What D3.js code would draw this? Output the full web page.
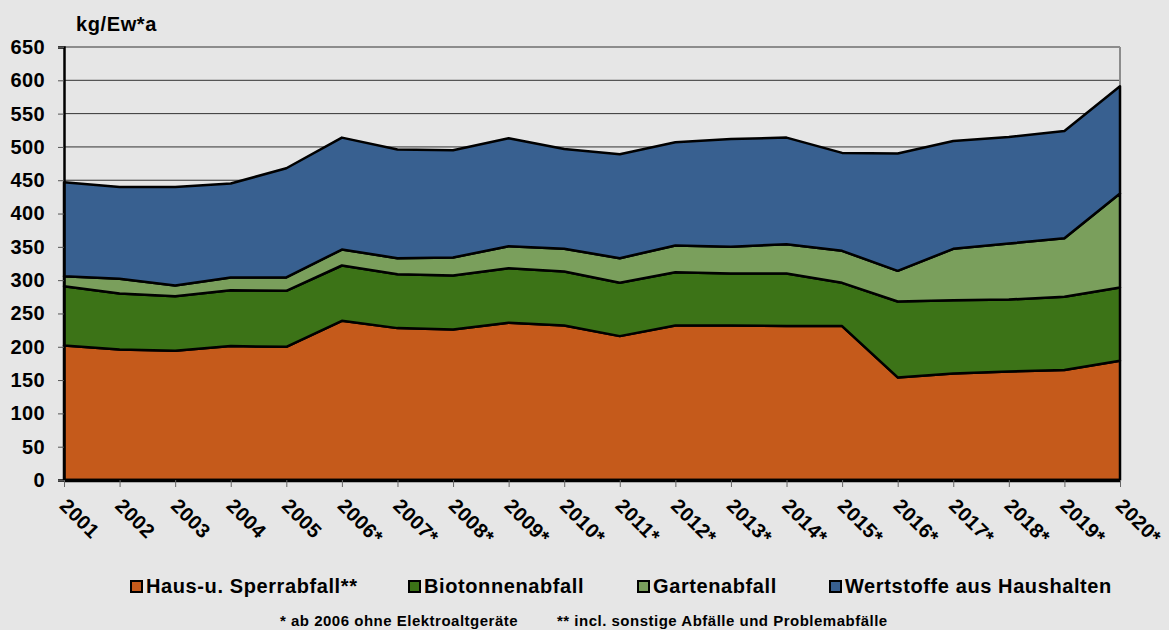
<!DOCTYPE html>
<html>
<head>
<meta charset="utf-8">
<script src="https://cdn.jsdelivr.net/npm/d3@7"></script>
<style>
  body { margin: 0; background: #e6e6e6; }
  svg { display: block; font-family: "Liberation Sans", Arial, sans-serif; font-weight: bold; }
</style>
</head>
<body>
<svg id="chart"></svg>
<script>
// Data (kg per inhabitant and year)
const years = ["2001", "2002", "2003", "2004", "2005", "2006*", "2007*", "2008*", "2009*", "2010*",
               "2011*", "2012*", "2013*", "2014*", "2015*", "2016*", "2017*", "2018*", "2019*", "2020*"];
const haus = [202, 196, 194, 201, 200, 239, 228, 226, 236, 232, 216, 232, 232, 231, 231, 154, 160, 163, 165, 179];
const bio = [89, 84, 82, 84, 84, 83, 81, 81, 82, 81, 80, 80, 78, 79, 65, 114, 110, 108, 110, 110];
const garten = [15, 22, 16, 19, 20, 24, 24, 27, 33, 34, 37, 40, 40, 44, 48, 46, 77, 84, 88, 141];
const wert = [141, 138, 148, 141, 164, 168, 163, 161, 162, 150, 156, 155, 162, 160, 147, 176, 162, 160, 161, 161];
const seriesNames = ["Haus-u. Sperrabfall**", "Biotonnenabfall", "Gartenabfall", "Wertstoffe aus Haushalten"];
const yTicks = [0, 50, 100, 150, 200, 250, 300, 350, 400, 450, 500, 550, 600, 650];

const width = 1169, height = 630;
const margin = {top: 47, right: 49, bottom: 150, left: 64};
const colors = ["#c55a1b", "#3c7317", "#7a9f5c", "#386090"];

const svg = d3.select("#chart")
    .attr("width", width)
    .attr("height", height)
    .style("background", "#e6e6e6");

// table for the stack
const keys = ["haus", "bio", "garten", "wert"];
const table = years.map((y, i) => ({year: y, haus: haus[i], bio: bio[i], garten: garten[i], wert: wert[i]}));
const stacked = d3.stack().keys(keys)(table);

const x = d3.scalePoint()
    .domain(years)
    .range([margin.left, width - margin.right]);

const y = d3.scaleLinear()
    .domain([0, 650])
    .range([height - margin.bottom, margin.top]);

// gridlines
svg.append("g")
    .selectAll("line")
    .data(yTicks.filter(d => d > 0 && d < 650))
    .enter().append("line")
    .attr("x1", margin.left)
    .attr("x2", width - margin.right)
    .attr("y1", d => y(d))
    .attr("y2", d => y(d))
    .attr("stroke", "#333")
    .attr("stroke-width", 1);

// top and right frame
svg.append("line")
    .attr("x1", margin.left).attr("x2", width - margin.right)
    .attr("y1", y(650)).attr("y2", y(650))
    .attr("stroke", "#8c8c8c").attr("stroke-width", 2);
svg.append("line")
    .attr("x1", width - margin.right).attr("x2", width - margin.right)
    .attr("y1", y(650)).attr("y2", y(0))
    .attr("stroke", "#8c8c8c").attr("stroke-width", 2);

// areas with black outline
const area = d3.area()
    .x(d => x(d.data.year))
    .y0(d => y(d[0]))
    .y1(d => y(d[1]));

svg.append("g")
    .selectAll("path")
    .data(stacked)
    .enter().append("path")
    .attr("d", area)
    .attr("fill", (d, i) => colors[i])
    .attr("stroke", "#000")
    .attr("stroke-width", 2.5)
    .attr("stroke-linejoin", "round");

// y-axis
const yAxis = svg.append("g")
    .attr("transform", `translate(${margin.left}, 0)`)
    .call(d3.axisLeft(y).tickValues(yTicks).tickSize(6).tickPadding(13));
yAxis.select(".domain").attr("stroke", "#000").attr("stroke-width", 2.5);
yAxis.selectAll(".tick line").attr("stroke", "#555");
yAxis.selectAll("text")
    .attr("font-size", 20)
    .attr("letter-spacing", 0.4)
    .attr("font-family", "Liberation Sans, Arial, sans-serif")
    .attr("font-weight", "bold")
    .attr("fill", "#000");

// x-axis
const xAxis = svg.append("g")
    .attr("transform", `translate(0, ${y(0)})`)
    .call(d3.axisBottom(x).tickSize(7).tickSizeOuter(0));
xAxis.select(".domain").attr("stroke", "#000").attr("stroke-width", 3.5);
xAxis.selectAll(".tick line").attr("stroke", "#666");
xAxis.selectAll("text")
    .attr("font-size", 20)
    .attr("letter-spacing", 0.4)
    .attr("font-family", "Liberation Sans, Arial, sans-serif")
    .attr("font-weight", "bold")
    .attr("fill", "#000")
    .attr("text-anchor", "start")
    .attr("dy", null)
    .attr("y", 0)
    .attr("transform", "translate(-6, 27) rotate(45)");

// unit label
svg.append("text")
    .attr("x", 76)
    .attr("y", 31)
    .attr("font-size", 20)
    .attr("letter-spacing", 0.6)
    .text("kg/Ew*a");

// legend
const legendX = [130, 408, 637, 829];
const legend = svg.selectAll(".legend")
    .data(seriesNames)
    .enter().append("g")
    .attr("class", "legend")
    .attr("transform", (d, i) => `translate(${legendX[i]}, 593)`);

legend.append("rect")
    .attr("x", 1)
    .attr("y", -12)
    .attr("width", 11)
    .attr("height", 11)
    .attr("fill", (d, i) => colors[i])
    .attr("stroke", "#000")
    .attr("stroke-width", 2);

legend.append("text")
    .attr("x", 16)
    .attr("y", 0)
    .attr("font-size", 20)
    .attr("letter-spacing", 0.6)
    .text(d => d);

// footnotes
svg.append("text")
    .attr("x", 280)
    .attr("y", 626)
    .attr("font-size", 15)
    .attr("letter-spacing", 0.5)
    .text("* ab 2006 ohne Elektroaltgeräte");
svg.append("text")
    .attr("x", 557)
    .attr("y", 626)
    .attr("font-size", 15)
    .attr("letter-spacing", 0.5)
    .text("** incl. sonstige Abfälle und Problemabfälle");
</script>
</body>
</html>
